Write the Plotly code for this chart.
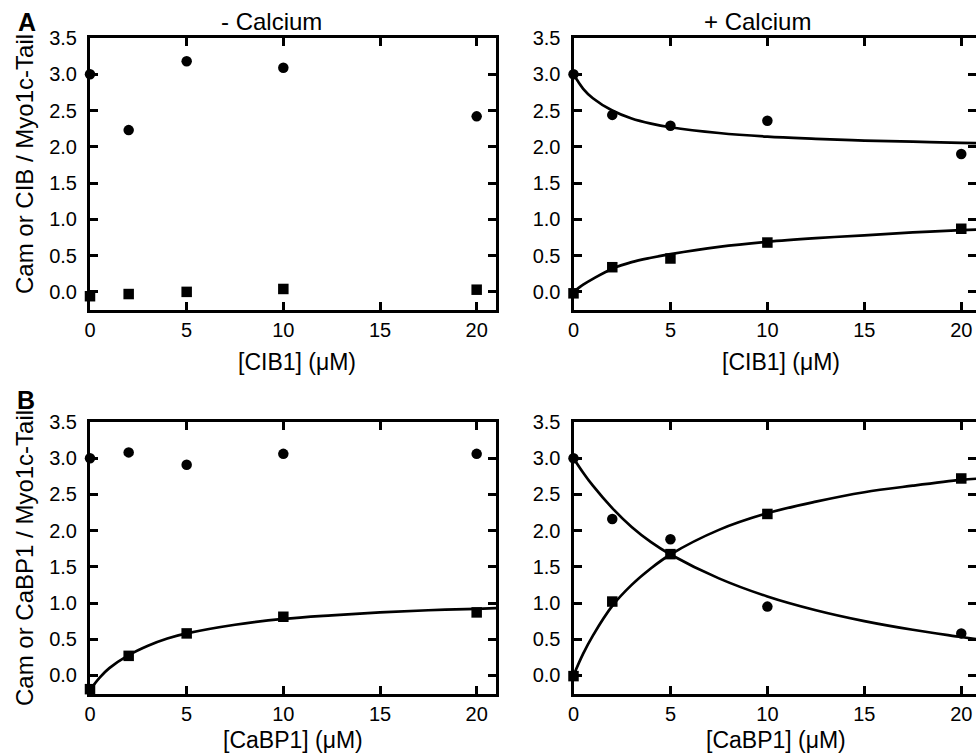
import plotly.graph_objects as go

W, H = 976, 756

# ---- data ----
conc = [0, 2, 5, 10, 20]

# Panel A (CIB1)
a_minus_cam = [3.00, 2.23, 3.18, 3.09, 2.42]
a_minus_cib = [-0.06, -0.03, 0.00, 0.04, 0.03]
a_plus_cam = [3.00, 2.44, 2.29, 2.36, 1.90]
a_plus_cib = [-0.02, 0.34, 0.46, 0.68, 0.87]

# Panel B (CaBP1)
b_minus_cam = [3.00, 3.08, 2.91, 3.06, 3.06]
b_minus_cabp = [-0.19, 0.27, 0.58, 0.81, 0.87]
b_plus_cam = [3.00, 2.16, 1.88, 0.95, 0.58]
b_plus_cabp = [-0.01, 1.02, 1.675, 2.23, 2.72]

# fitted curves
fit_x = [0, 0.5, 1, 2, 3, 4, 5, 7.5, 10, 12.5, 15, 17.5, 20, 21]
a_plus_cam_fit = [3.00, 2.80, 2.67, 2.50, 2.39, 2.32, 2.27, 2.19, 2.14, 2.11, 2.085, 2.07, 2.055, 2.05]
a_plus_cib_fit = [0.00, 0.10, 0.18, 0.32, 0.41, 0.47, 0.52, 0.62, 0.69, 0.74, 0.78, 0.82, 0.85, 0.86]
b_minus_cabp_fit = [-0.20, -0.03, 0.10, 0.28, 0.41, 0.51, 0.58, 0.70, 0.78, 0.83, 0.87, 0.90, 0.92, 0.93]
b_plus_cam_fit = [3.00, 2.80, 2.62, 2.31, 2.05, 1.84, 1.67, 1.34, 1.09, 0.90, 0.75, 0.63, 0.53, 0.49]
b_plus_cabp_fit = [0.00, 0.30, 0.55, 0.96, 1.25, 1.48, 1.67, 2.01, 2.24, 2.40, 2.53, 2.62, 2.70, 2.72]

x_ticks = [0, 5, 10, 15, 20]
y_ticks = [0.0, 0.5, 1.0, 1.5, 2.0, 2.5, 3.0, 3.5]

FONT = "Liberation Sans, Arial, Helvetica, sans-serif"
BLACK = "#000000"

fig = go.Figure()


def add_points(x, y, symbol, xa, ya, size):
    fig.add_trace(go.Scatter(
        x=x, y=y, mode="markers", xaxis=xa, yaxis=ya, cliponaxis=False,
        marker=dict(symbol=symbol, size=size, color=BLACK, line=dict(width=0)),
        showlegend=False, hoverinfo="x+y"))


def add_fit(x, y, xa, ya):
    fig.add_trace(go.Scatter(
        x=x, y=y, mode="lines", xaxis=xa, yaxis=ya,
        line=dict(color=BLACK, width=2.7, shape="spline", smoothing=1.0),
        showlegend=False, hoverinfo="skip"))


# top-left: - Calcium, CIB1
add_points(conc, a_minus_cam, "circle", "x", "y", 10.5)
add_points(conc, a_minus_cib, "square", "x", "y", 10.5)
# top-right: + Calcium, CIB1
add_fit(fit_x, a_plus_cam_fit, "x2", "y2")
add_fit(fit_x, a_plus_cib_fit, "x2", "y2")
add_points(conc, a_plus_cam, "circle", "x2", "y2", 10.5)
add_points(conc, a_plus_cib, "square", "x2", "y2", 10.5)
# bottom-left: - Calcium, CaBP1
add_fit(fit_x, b_minus_cabp_fit, "x3", "y3")
add_points(conc, b_minus_cam, "circle", "x3", "y3", 10.5)
add_points(conc, b_minus_cabp, "square", "x3", "y3", 10.5)
# bottom-right: + Calcium, CaBP1
add_fit(fit_x, b_plus_cam_fit, "x4", "y4")
add_fit(fit_x, b_plus_cabp_fit, "x4", "y4")
add_points(conc, b_plus_cam, "circle", "x4", "y4", 10.5)
add_points(conc, b_plus_cabp, "square", "x4", "y4", 10.5)


def px_x(p):
    return p / W


def px_y(p):
    return 1 - p / H


left_dom = [px_x(90), px_x(496)]
right_dom = [px_x(573.5), 1.0]
top_dom = [px_y(310), px_y(38)]
bot_dom = [px_y(693.5), px_y(422)]

common_axis = dict(
    showline=True, linecolor=BLACK, linewidth=3, mirror="ticks",
    ticks="inside", ticklen=8, tickwidth=2.6, tickcolor=BLACK,
    showgrid=False, zeroline=False, automargin=False,
    tickfont=dict(family=FONT, size=20, color=BLACK),
)

xcommon = dict(common_axis, tickvals=x_ticks, ticktext=[str(v) for v in x_ticks])
ycommon = dict(common_axis, tickvals=y_ticks, ticktext=["%.1f" % v for v in y_ticks],
               range=[-0.25, 3.5], ticklabelstandoff=6)

fig.update_layout(
    template="none",
    width=W, height=H,
    margin=dict(l=0, r=0, t=0, b=0, pad=0),
    paper_bgcolor="white", plot_bgcolor="white",
    font=dict(family=FONT, color=BLACK),
    xaxis=dict(xcommon, domain=left_dom, range=[0, 21], anchor="y"),
    yaxis=dict(ycommon, domain=top_dom, anchor="x"),
    xaxis2=dict(xcommon, domain=right_dom, range=[0, 20.76], anchor="y2"),
    yaxis2=dict(ycommon, domain=top_dom, anchor="x2"),
    xaxis3=dict(xcommon, domain=left_dom, range=[0, 21], anchor="y3"),
    yaxis3=dict(ycommon, domain=bot_dom, anchor="x3"),
    xaxis4=dict(xcommon, domain=right_dom, range=[0, 20.76], anchor="y4"),
    yaxis4=dict(ycommon, domain=bot_dom, anchor="x4"),
)

ann = []


def text(s, x, y, size, rot=0, bold=False):
    ann.append(dict(
        text=("<b>%s</b>" % s) if bold else s,
        x=px_x(x), y=px_y(y), xref="paper", yref="paper",
        xanchor="center", yanchor="middle", showarrow=False, textangle=rot,
        font=dict(family=FONT, size=size, color=BLACK)))


text("A", 27, 22, 25, bold=True)
text("B", 26, 400, 25, bold=True)
text("- Calcium", 271, 21, 24)
text("+ Calcium", 757, 21, 24)
text("[CIB1] (μM)", 297, 362, 23)
text("[CIB1] (μM)", 781, 362, 23)
text("[CaBP1] (μM)", 293, 740, 23)
text("[CaBP1] (μM)", 776, 740, 23)
text("Cam or CIB / Myo1c-Tail", 24, 164, 24, rot=-90)
text("Cam or CaBP1 / Myo1c-Tail", 24, 558, 24, rot=-90)

fig.update_layout(annotations=ann)

fig.write_html("out.html", config={"displayModeBar": False},
               post_script="document.body.style.margin='0';document.body.style.overflow='hidden';")
